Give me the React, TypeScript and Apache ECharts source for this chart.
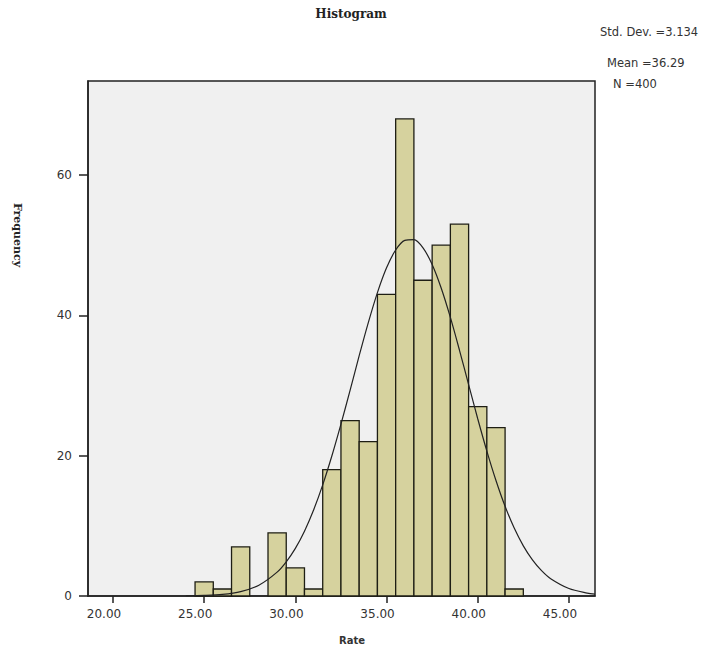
import React, { useEffect, useRef } from "react";
import * as echarts from "echarts";

// Histogram bins (bin width 1, centered on integers)
const binCenters = [25, 26, 27, 28, 29, 30, 31, 32, 33, 34, 35, 36, 37, 38, 39, 40, 41, 42];
const frequencies = [2, 1, 7, 0, 9, 4, 1, 18, 25, 22, 43, 68, 45, 50, 53, 27, 24, 1];

// Fitted normal curve
const curveX = [24, 25, 26, 27, 28, 29, 29.5, 30, 30.5, 31, 31.5, 32, 32.5, 33, 33.5, 34, 34.5, 35, 35.5, 36, 36.5, 37, 37.5, 38, 38.5, 39, 39.5, 40, 40.5, 41, 41.5, 42, 42.5, 43, 43.5, 44, 45, 46, 46.43];
const curveY = [0.02, 0.08, 0.23, 0.63, 1.54, 3.4, 4.87, 6.79, 9.24, 12.25, 15.83, 19.95, 24.5, 29.3, 34.25, 38.97, 43.24, 46.77, 49.31, 50.68, 50.79, 49.61, 47.25, 43.86, 39.7, 35.02, 30.13, 25.26, 20.65, 16.46, 12.78, 9.68, 7.15, 5.15, 3.61, 2.47, 1.07, 0.42, 0.27];

const xTicks = [20, 25, 30, 35, 40, 45];
const yTicks = [0, 20, 40, 60];
const statsLines = ["Std. Dev. =3.134", "Mean =36.29", "N =400"];

export default function App() {
  const ref = useRef<HTMLDivElement>(null);
  useEffect(() => {
    if (!ref.current) return;
    const chart = echarts.init(ref.current, undefined, { renderer: "svg" });
    const barData = binCenters.map((c, i) => [c, frequencies[i]]);
    const curveData = curveX.map((x, i) => [x, curveY[i]]);
    chart.setOption({
      animation: false,
      backgroundColor: "#ffffff",
      grid: {
        left: 88,
        right: 127,
        top: 81,
        bottom: 52,
        show: true,
        backgroundColor: "#f0f0f0",
        borderColor: "#222",
        borderWidth: 1.5,
      },
      xAxis: {
        type: "value",
        min: 18.63,
        max: 46.43,
        axisLine: { show: true, lineStyle: { color: "#222", width: 1.5 } },
        axisTick: { show: true, customValues: xTicks, length: 7, lineStyle: { color: "#222", width: 1.5 } },
        axisLabel: {
          customValues: xTicks,
          formatter: (v: number) => v.toFixed(2),
          margin: 12,
          fontSize: 12,
          color: "#333",
          fontFamily: "DejaVu Sans",
          padding: [0, 18, 0, 0],
        },
        splitLine: { show: false },
      },
      yAxis: {
        type: "value",
        min: 0,
        max: 73.4,
        axisLine: { show: true, lineStyle: { color: "#222", width: 1.5 } },
        axisTick: { show: true, customValues: yTicks, length: 9, lineStyle: { color: "#222", width: 1.5 } },
        axisLabel: {
          customValues: yTicks,
          margin: 16,
          fontSize: 12,
          color: "#333",
          fontFamily: "DejaVu Sans",
        },
        splitLine: { show: false },
      },
      series: [
        {
          type: "custom",
          data: barData,
          encode: { x: 0, y: 1 },
          renderItem: (params: any, api: any) => {
            const x = api.value(0);
            const y = api.value(1);
            if (!y) return { type: "group", children: [] };
            const p0 = api.coord([x - 0.5, y]);
            const p1 = api.coord([x + 0.5, 0]);
            return {
              type: "rect",
              shape: { x: p0[0], y: p0[1], width: p1[0] - p0[0], height: p1[1] - p0[1] },
              style: { fill: "#d6d29e", stroke: "#1e1e14", lineWidth: 1.3 },
            };
          },
          z: 2,
        },
        {
          type: "line",
          data: curveData,
          smooth: 0.3,
          showSymbol: false,
          symbol: "none",
          lineStyle: { color: "#222", width: 1.2 },
          z: 3,
        },
      ],
      graphic: [
        {
          type: "text",
          x: 351,
          y: 14,
          style: {
            text: "Histogram",
            font: "bold 12px 'DejaVu Serif'",
            fill: "#222",
            align: "center",
            verticalAlign: "middle",
          },
        },
        {
          type: "text",
          x: 17,
          y: 235,
          rotation: -Math.PI / 2,
          style: {
            text: "Frequency",
            font: "bold 11px 'DejaVu Serif'",
            fill: "#222",
            align: "center",
            verticalAlign: "middle",
          },
        },
        {
          type: "text",
          x: 352,
          y: 640,
          style: {
            text: "Rate",
            font: "bold 10px 'DejaVu Sans'",
            fill: "#333",
            align: "center",
            verticalAlign: "middle",
          },
        },
        {
          type: "text",
          x: 600,
          y: 32,
          style: { text: statsLines[0], font: "11.5px 'DejaVu Sans'", fill: "#333", align: "left", verticalAlign: "middle" },
        },
        {
          type: "text",
          x: 607,
          y: 63,
          style: { text: statsLines[1], font: "11.5px 'DejaVu Sans'", fill: "#333", align: "left", verticalAlign: "middle" },
        },
        {
          type: "text",
          x: 613,
          y: 84,
          style: { text: statsLines[2], font: "11.5px 'DejaVu Sans'", fill: "#333", align: "left", verticalAlign: "middle" },
        },
      ],
    });
    return () => chart.dispose();
  }, []);
  return (
    <div
      ref={ref}
      style={{ position: "fixed", left: 0, top: 0, width: 722, height: 648 }}
    />
  );
}
